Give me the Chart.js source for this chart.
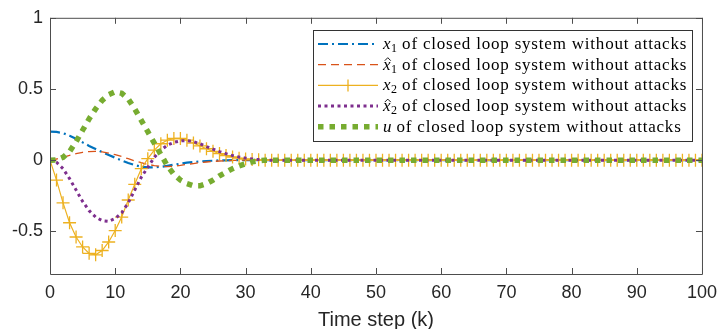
<!DOCTYPE html>
<html>
<head>
<meta charset="utf-8">
<script src="https://cdn.jsdelivr.net/npm/chart.js@4"></script>
<style>
  html, body { margin: 0; padding: 0; background: #fff; }
</style>
</head>
<body>
<canvas id="chart" width="725" height="329"></canvas>
<script>
// Time steps 0..100
const steps = [];
for (let k = 0; k <= 100; k++) steps.push(k);

// values for k = 0..32
const x1Head = [0.2, 0.198, 0.19, 0.172, 0.15, 0.125, 0.1, 0.078, 0.056, 0.036, 0.017, -0.002, -0.02, -0.035, -0.046, -0.051, -0.051, -0.047, -0.04, -0.032, -0.025, -0.018, -0.013, -0.009, -0.006, -0.004, -0.002, -0.001, 0, 0, 0, 0, 0];
const x1HatHead = [0, 0.008, 0.02, 0.033, 0.045, 0.055, 0.06, 0.062, 0.058, 0.05, 0.038, 0.025, 0.01, -0.005, -0.018, -0.03, -0.038, -0.043, -0.045, -0.042, -0.037, -0.03, -0.024, -0.018, -0.013, -0.009, -0.006, -0.004, -0.002, -0.001, 0, 0, 0];
const x2Head = [0, -0.14, -0.3, -0.44, -0.54, -0.61, -0.655, -0.665, -0.635, -0.575, -0.495, -0.4, -0.28, -0.17, -0.06, 0.01, 0.07, 0.115, 0.14, 0.152, 0.152, 0.14, 0.12, 0.1, 0.08, 0.062, 0.046, 0.032, 0.022, 0.014, 0.008, 0.004, 0.002];
const x2HatHead = [0, -0.015, -0.06, -0.13, -0.21, -0.29, -0.355, -0.4, -0.425, -0.43, -0.41, -0.37, -0.3, -0.21, -0.12, -0.05, 0.02, 0.07, 0.105, 0.125, 0.135, 0.138, 0.13, 0.115, 0.095, 0.077, 0.06, 0.045, 0.032, 0.022, 0.014, 0.008, 0.004];
const uHead = [0, 0.002, 0.02, 0.06, 0.13, 0.21, 0.29, 0.36, 0.42, 0.46, 0.48, 0.47, 0.43, 0.36, 0.28, 0.2, 0.12, 0.04, -0.04, -0.1, -0.14, -0.165, -0.18, -0.18, -0.165, -0.14, -0.11, -0.085, -0.06, -0.04, -0.025, -0.012, -0.005];
// k = 33..100, everything has settled
const settled = [
    0, 0, 0, 0, 0, 0, 0, 0, 0, 0,
    0, 0, 0, 0, 0, 0, 0, 0, 0, 0,
    0, 0, 0, 0, 0, 0, 0, 0, 0, 0,
    0, 0, 0, 0, 0, 0, 0, 0, 0, 0,
    0, 0, 0, 0, 0, 0, 0, 0, 0, 0,
    0, 0, 0, 0, 0, 0, 0, 0, 0, 0,
    0, 0, 0, 0, 0, 0, 0, 0
];

const x1 = x1Head.concat(settled);
const x1Hat = x1HatHead.concat(settled);
const x2 = x2Head.concat(settled);
const x2Hat = x2HatHead.concat(settled);
const u = uHead.concat(settled);

const yTicks = [-0.5, 0, 0.5, 1];
const yTickLabels = ['-0.5', '0', '0.5', '1'];
const xTitle = 'Time step (k)';

// legend entries: symbol, subscript, hat
const legendItems = [
    { sym: 'x', sub: '1', hat: false },
    { sym: 'x', sub: '1', hat: true },
    { sym: 'x', sub: '2', hat: false },
    { sym: 'x', sub: '2', hat: true },
    { sym: 'u', sub: '', hat: false }
];
const legendText = ' of closed loop system without attacks';

const axisColor = '#4d4d4d';
const textColor = '#262626';

// Box + inward ticks like MATLAB
const axesBox = {
    id: 'axesBox',
    afterDatasetsDraw(chart) {
        const ctx = chart.ctx;
        const a = chart.chartArea;
        const xs = chart.scales.x, ys = chart.scales.y;
        ctx.save();
        ctx.strokeStyle = axisColor;
        ctx.lineWidth = 1;
        ctx.beginPath();
        ctx.rect(a.left + 0.5, a.top + 0.5, a.right - a.left, a.bottom - a.top);
        for (let t = 0; t <= 100; t += 10) {
            const px = Math.round(xs.getPixelForValue(t)) + 0.5;
            ctx.moveTo(px, a.bottom); ctx.lineTo(px, a.bottom - 6);
            ctx.moveTo(px, a.top); ctx.lineTo(px, a.top + 6);
        }
        yTicks.forEach(v => {
            const py = Math.round(ys.getPixelForValue(v)) + 0.5;
            ctx.moveTo(a.left, py); ctx.lineTo(a.left + 6, py);
            ctx.moveTo(a.right, py); ctx.lineTo(a.right - 6, py);
        });
        ctx.stroke();
        ctx.restore();
    }
};

// Legend box drawn by hand (math-style labels)
const mathLegend = {
    id: 'mathLegend',
    afterDraw(chart) {
        const ctx = chart.ctx;
        const box = { x: 313, y: 30, w: 379, h: 111 };
        ctx.save();
        ctx.fillStyle = '#fff';
        ctx.fillRect(box.x, box.y, box.w, box.h);
        ctx.strokeStyle = '#333';
        ctx.lineWidth = 1;
        ctx.strokeRect(box.x + 0.5, box.y + 0.5, box.w, box.h);

        const ds = chart.data.datasets;
        legendItems.forEach((item, i) => {
            const d = ds[i];
            const y = 44 + i * 20.7;
            // line sample
            ctx.save();
            ctx.strokeStyle = d.borderColor;
            ctx.lineWidth = d.borderWidth;
            ctx.setLineDash(d.borderDash || []);
            ctx.beginPath();
            ctx.moveTo(318, y);
            ctx.lineTo(378, y);
            ctx.stroke();
            if (d.pointStyle === 'cross') {
                ctx.setLineDash([]);
                ctx.lineWidth = 1.3;
                ctx.beginPath();
                ctx.moveTo(348, y - 6); ctx.lineTo(348, y + 6);
                ctx.stroke();
            }
            ctx.restore();

            // label
            let tx = 383;
            ctx.fillStyle = '#000';
            ctx.textBaseline = 'alphabetic';
            ctx.letterSpacing = '0px';
            const base = y + 5;
            ctx.font = 'italic 17px "Liberation Serif"';
            ctx.fillText(item.sym, tx, base);
            const symW = ctx.measureText(item.sym).width;
            if (item.hat) {
                const cx = tx + symW / 2 + 1;
                ctx.beginPath();
                ctx.lineWidth = 0.9;
                ctx.strokeStyle = '#000';
                ctx.moveTo(cx - 3, base - 9);
                ctx.lineTo(cx, base - 12);
                ctx.lineTo(cx + 3, base - 9);
                ctx.stroke();
            }
            tx += symW;
            if (item.sub) {
                ctx.font = '12px "Liberation Serif"';
                ctx.fillText(item.sub, tx + 0.5, base + 3);
                tx += ctx.measureText(item.sub).width + 0.5;
            }
            ctx.font = '17px "Liberation Serif"';
            ctx.letterSpacing = '0.8px';
            ctx.fillText(legendText, tx, base);
        });
        ctx.restore();
    }
};

new Chart(document.getElementById('chart'), {
    type: 'line',
    data: {
        labels: steps,
        datasets: [{
            label: 'x1',
            data: x1,
            borderColor: '#0072BD',
            borderWidth: 2.2,
            borderDash: [10, 4, 2, 4],
            pointRadius: 0,
            order: 5
        }, {
            label: 'x1 hat',
            data: x1Hat,
            borderColor: '#D95319',
            borderWidth: 1.3,
            borderDash: [8, 5],
            pointRadius: 0,
            order: 4
        }, {
            label: 'x2',
            data: x2,
            borderColor: '#EDB120',
            borderWidth: 1.2,
            pointStyle: 'cross',
            pointRadius: 6.5,
            pointBorderWidth: 1.3,
            pointBorderColor: '#EDB120',
            order: 3
        }, {
            label: 'x2 hat',
            data: x2Hat,
            borderColor: '#7E2F8E',
            borderWidth: 3,
            borderDash: [3, 3.5],
            pointRadius: 0,
            order: 2
        }, {
            label: 'u',
            data: u,
            borderColor: '#77AC30',
            borderWidth: 5.5,
            borderDash: [5.5, 6],
            pointRadius: 0,
            order: 1
        }]
    },
    options: {
        responsive: false,
        animation: false,
        layout: { padding: { top: 16, right: 18, left: 0, bottom: 0 } },
        plugins: {
            legend: { display: false },
            tooltip: { enabled: false }
        },
        scales: {
            x: {
                type: 'linear',
                min: 0,
                max: 100,
                ticks: {
                    stepSize: 10,
                    color: textColor,
                    font: { family: 'Liberation Sans', size: 18 },
                    padding: 8,
                    maxRotation: 0
                },
                grid: { display: false, drawTicks: false },
                border: { display: false },
                title: {
                    display: true,
                    text: xTitle,
                    color: textColor,
                    font: { family: 'Liberation Sans', size: 20 },
                    padding: { top: 0, bottom: -3 }
                },
                afterFit(scale) { scale.height = 55; }
            },
            y: {
                min: -0.8,
                max: 1,
                afterBuildTicks(scale) {
                    scale.ticks = yTicks.map(v => ({ value: v }));
                },
                ticks: {
                    color: textColor,
                    font: { family: 'Liberation Sans', size: 18 },
                    padding: 7,
                    callback: (v) => yTickLabels[yTicks.indexOf(v)]
                },
                grid: { display: false, drawTicks: false },
                border: { display: false },
                afterFit(scale) { scale.width = 50; }
            }
        }
    },
    plugins: [axesBox, mathLegend]
});
</script>
</body>
</html>
